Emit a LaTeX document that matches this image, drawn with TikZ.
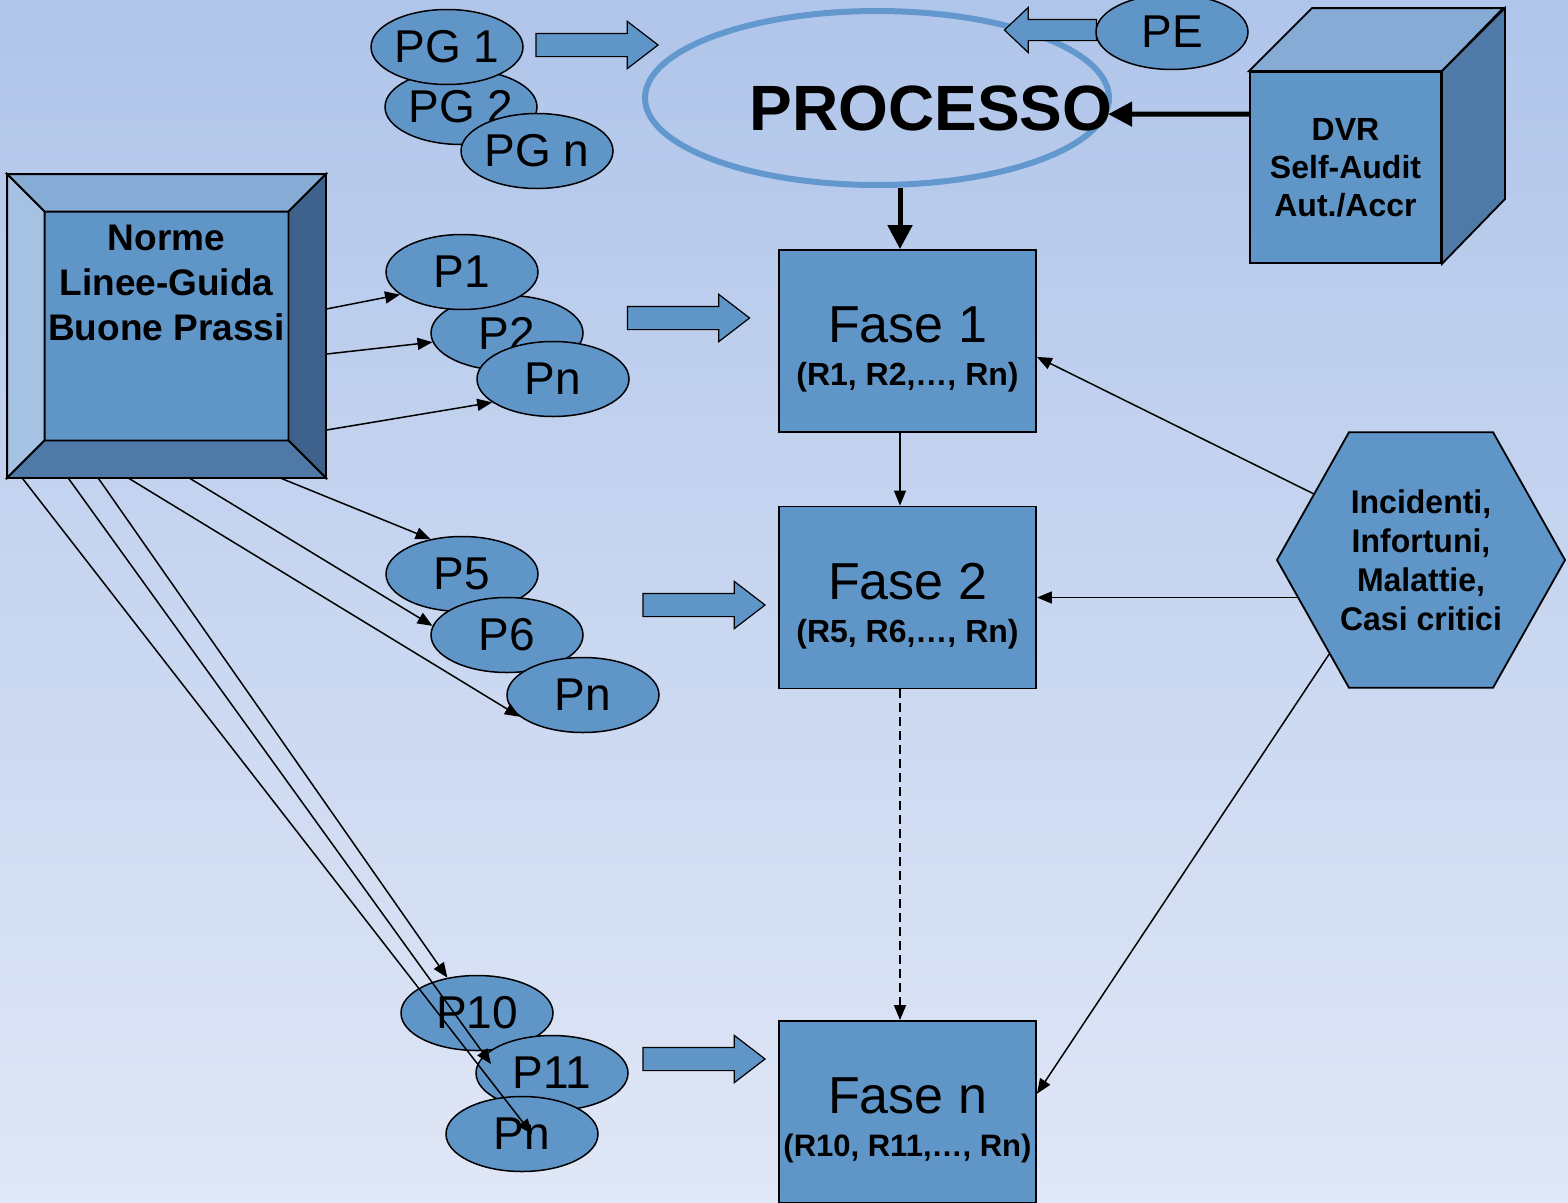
\documentclass[tikz,border=0pt]{standalone}
\usepackage{fontspec}
\setmainfont{Liberation Sans}
\usetikzlibrary{shapes.geometric,shapes.arrows,arrows.meta}

\definecolor{bgtop}{RGB}{176,197,234}
\definecolor{bgbot}{RGB}{224,231,246}
\definecolor{boxblue}{RGB}{96,149,200}
\definecolor{ringblue}{RGB}{98,152,206}
\definecolor{bevtop}{RGB}{134,171,213}
\definecolor{bevleft}{RGB}{166,194,227}
\definecolor{bevright}{RGB}{62,98,140}
\definecolor{bevbot}{RGB}{79,122,168}

\begin{document}
\begin{tikzpicture}
[every node/.style={inner sep=0pt},
 pill/.style={ellipse, minimum width=152pt, minimum height=75pt, fill=boxblue, draw=black, line width=1.5pt, font=\fontsize{46}{52}\selectfont},
 fasebox/.style={rectangle, minimum width=257pt, minimum height=182pt, fill=boxblue, draw=black, line width=1.8pt, align=center, font=\fontsize{32}{43}\selectfont\bfseries},
 fatarrow/.style={single arrow, inner xsep=0pt, inner ysep=11pt, minimum height=122pt, minimum width=46pt, single arrow head extend=12pt, single arrow tip angle=75, fill=boxblue, draw=black, line width=1.2pt},
 conn/.style={line width=1.5pt, -{Triangle[length=15pt,width=12pt]}},
 heavy/.style={line width=5pt, -{Triangle[length=24pt,width=24pt]}}]
\shade [top color=bgtop, bottom color=bgbot] (0pt, 0pt) rectangle (1568pt, -1202pt);
\useasboundingbox (0pt, 0pt) rectangle (1568pt, -1202pt);
% processo
\node (proc) [ellipse, minimum width=464pt, minimum height=174pt, draw=ringblue, line width=6pt] at (877pt, -98pt) {};
\node (pgarrow) [fatarrow] at (589.5pt, -45pt) {};
\node (pearrow) [fatarrow, inner ysep=10pt, minimum height=92pt, minimum width=44pt, single arrow tip angle=87, shape border rotate=180] at (1056pt, -30pt) {};
\node (pe) [pill] at (1172pt, -32pt) {PE};
\node (proctxt) [font=\fontsize{64}{70}\selectfont\bfseries] at (931pt, -108pt) {PROCESSO};
% PG
\node (pg2) [pill] at (461pt, -107pt) {PG 2};
\node (pg1) [pill] at (447pt, -47pt) {PG 1};
\node (pgn) [pill] at (537pt, -151pt) {PG n};
% cube
\node (dvr) [rectangle, minimum width=191pt, minimum height=191pt, fill=boxblue, draw=black, line width=1.8pt, align=center, font=\fontsize{32}{38}\selectfont\bfseries] at (1345.5pt, -167.5pt) {DVR\\Self-Audit\\Aut./Accr};
\draw [fill=bevtop, line width=1.8pt] (dvr.north west) -- ++(63pt, 63pt) -- ++(191pt, 0pt) -- (dvr.north east) -- cycle;
\draw [fill=bevbot, line width=1.8pt] (dvr.north east) -- ++(63pt, 63pt) -- ++(0pt, -191pt) -- (dvr.south east) -- cycle;
% norme
\node (norme) [rectangle, minimum width=317pt, minimum height=302pt, fill=boxblue, draw=black, line width=1.8pt] at (166.5pt, -326pt) {};
\draw [fill=bevtop, line width=1.8pt] (norme.north west) -- (norme.north east) -- ++(-37.5pt, -37.5pt) -- ([shift={(37.5pt, -37.5pt)}]norme.north west) -- cycle;
\draw [fill=bevleft, line width=1.8pt] (norme.north west) -- (norme.south west) -- ++(37.5pt, 37.5pt) -- ([shift={(37.5pt, -37.5pt)}]norme.north west) -- cycle;
\draw [fill=bevright, line width=1.8pt] (norme.north east) -- (norme.south east) -- ++(-37.5pt, 37.5pt) -- ([shift={(-37.5pt, -37.5pt)}]norme.north east) -- cycle;
\draw [fill=bevbot, line width=1.8pt] (norme.south west) -- (norme.south east) -- ++(-37.5pt, 37.5pt) -- ([shift={(37.5pt, 37.5pt)}]norme.south west) -- cycle;
\node (normetxt) [align=center, anchor=north, font=\fontsize{37}{45}\selectfont\bfseries] at (166.5pt, -224.5pt) {Norme\\Linee-Guida\\Buone Prassi};
% P groups
\node (p2) [pill] at (507pt, -333pt) {P2};
\node (p1) [pill] at (462pt, -272pt) {P1};
\node (pn1) [pill] at (553pt, -379pt) {Pn};
\node (p5) [pill] at (462pt, -574pt) {P5};
\node (p6) [pill] at (507pt, -635pt) {P6};
\node (pn2) [pill] at (583pt, -695pt) {Pn};
\node (p10) [pill] at (477pt, -1013pt) {P10};
\node (p11) [pill] at (552pt, -1073pt) {P11};
\node (pn3) [pill] at (522pt, -1134pt) {Pn};
% fasi
\node (fase1) [fasebox] at (907.5pt, -341pt) {\rule{0pt}{53pt}{\fontsize{52}{43}\selectfont\mdseries Fase 1}\\(R1, R2,…, Rn)};
\node (fase2) [fasebox] at (907.5pt, -597.5pt) {\rule{0pt}{53pt}{\fontsize{52}{43}\selectfont\mdseries Fase 2}\\(R5, R6,…, Rn)};
\node (fasen) [fasebox] at (907.5pt, -1112pt) {\rule{0pt}{53pt}{\fontsize{52}{43}\selectfont\mdseries Fase n}\\{\fontsize{31}{43}\selectfont (R10, R11,…, Rn)}};
\node (f1arrow) [fatarrow] at (681pt, -318pt) {};
\node (f2arrow) [fatarrow] at (696.5pt, -605pt) {};
\node (fnarrow) [fatarrow] at (696.5pt, -1059pt) {};
\node (hex) [regular polygon, regular polygon sides=6, minimum size=288pt, yscale=1.025, fill=boxblue, draw=black, line width=1.8pt, align=center, font=\fontsize{32}{38}\selectfont\bfseries] at (1421pt, -560pt) {Incidenti,\\Infortuni,\\Malattie,\\Casi critici};
% connectors
\coordinate (f1top) at ([xshift=-7.5pt]fase1.north);
\draw [heavy] ([yshift=53.5pt]dvr.west) -- (proc.-4);
\draw [heavy] (f1top |- proc.south) -- (f1top);
\draw [conn] ([xshift=-7.5pt]fase1.south) -- ([xshift=-7.5pt]fase2.north);
\draw [conn, dash pattern=on 9pt off 5pt] ([xshift=-7.5pt]fase2.south) -- ([xshift=-7.5pt]fasen.north);
\draw [conn] (hex.149) -- (fase1.-7);
\draw [conn] (hex.196 |- fase2.east) -- (fase2.east);
\draw [conn] (hex.225) -- (fasen.8);
\draw [conn] ([yshift=-135pt]norme.north east) -- (p1.200);
\draw [conn] ([yshift=-180pt]norme.north east) -- (p2.187);
\draw [conn] ([yshift=-256pt]norme.north east) -- (pn1.201);
\draw [conn] ([xshift=273pt]norme.south west) -- (p5.132);
\draw [conn] ([xshift=182pt]norme.south west) -- (p6.173);
\draw [conn] ([xshift=121pt]norme.south west) -- (pn2.199);
\draw [conn] ([xshift=91pt]norme.south west) -- (p10.130);
\draw [conn] ([xshift=61pt]norme.south west) -- ([shift={(-61pt, 9pt)}]p11.center);
\draw [conn] ([xshift=15pt]norme.south west) -- ([shift={(10pt, 0pt)}]pn3.center);
\end{tikzpicture}
\end{document}
